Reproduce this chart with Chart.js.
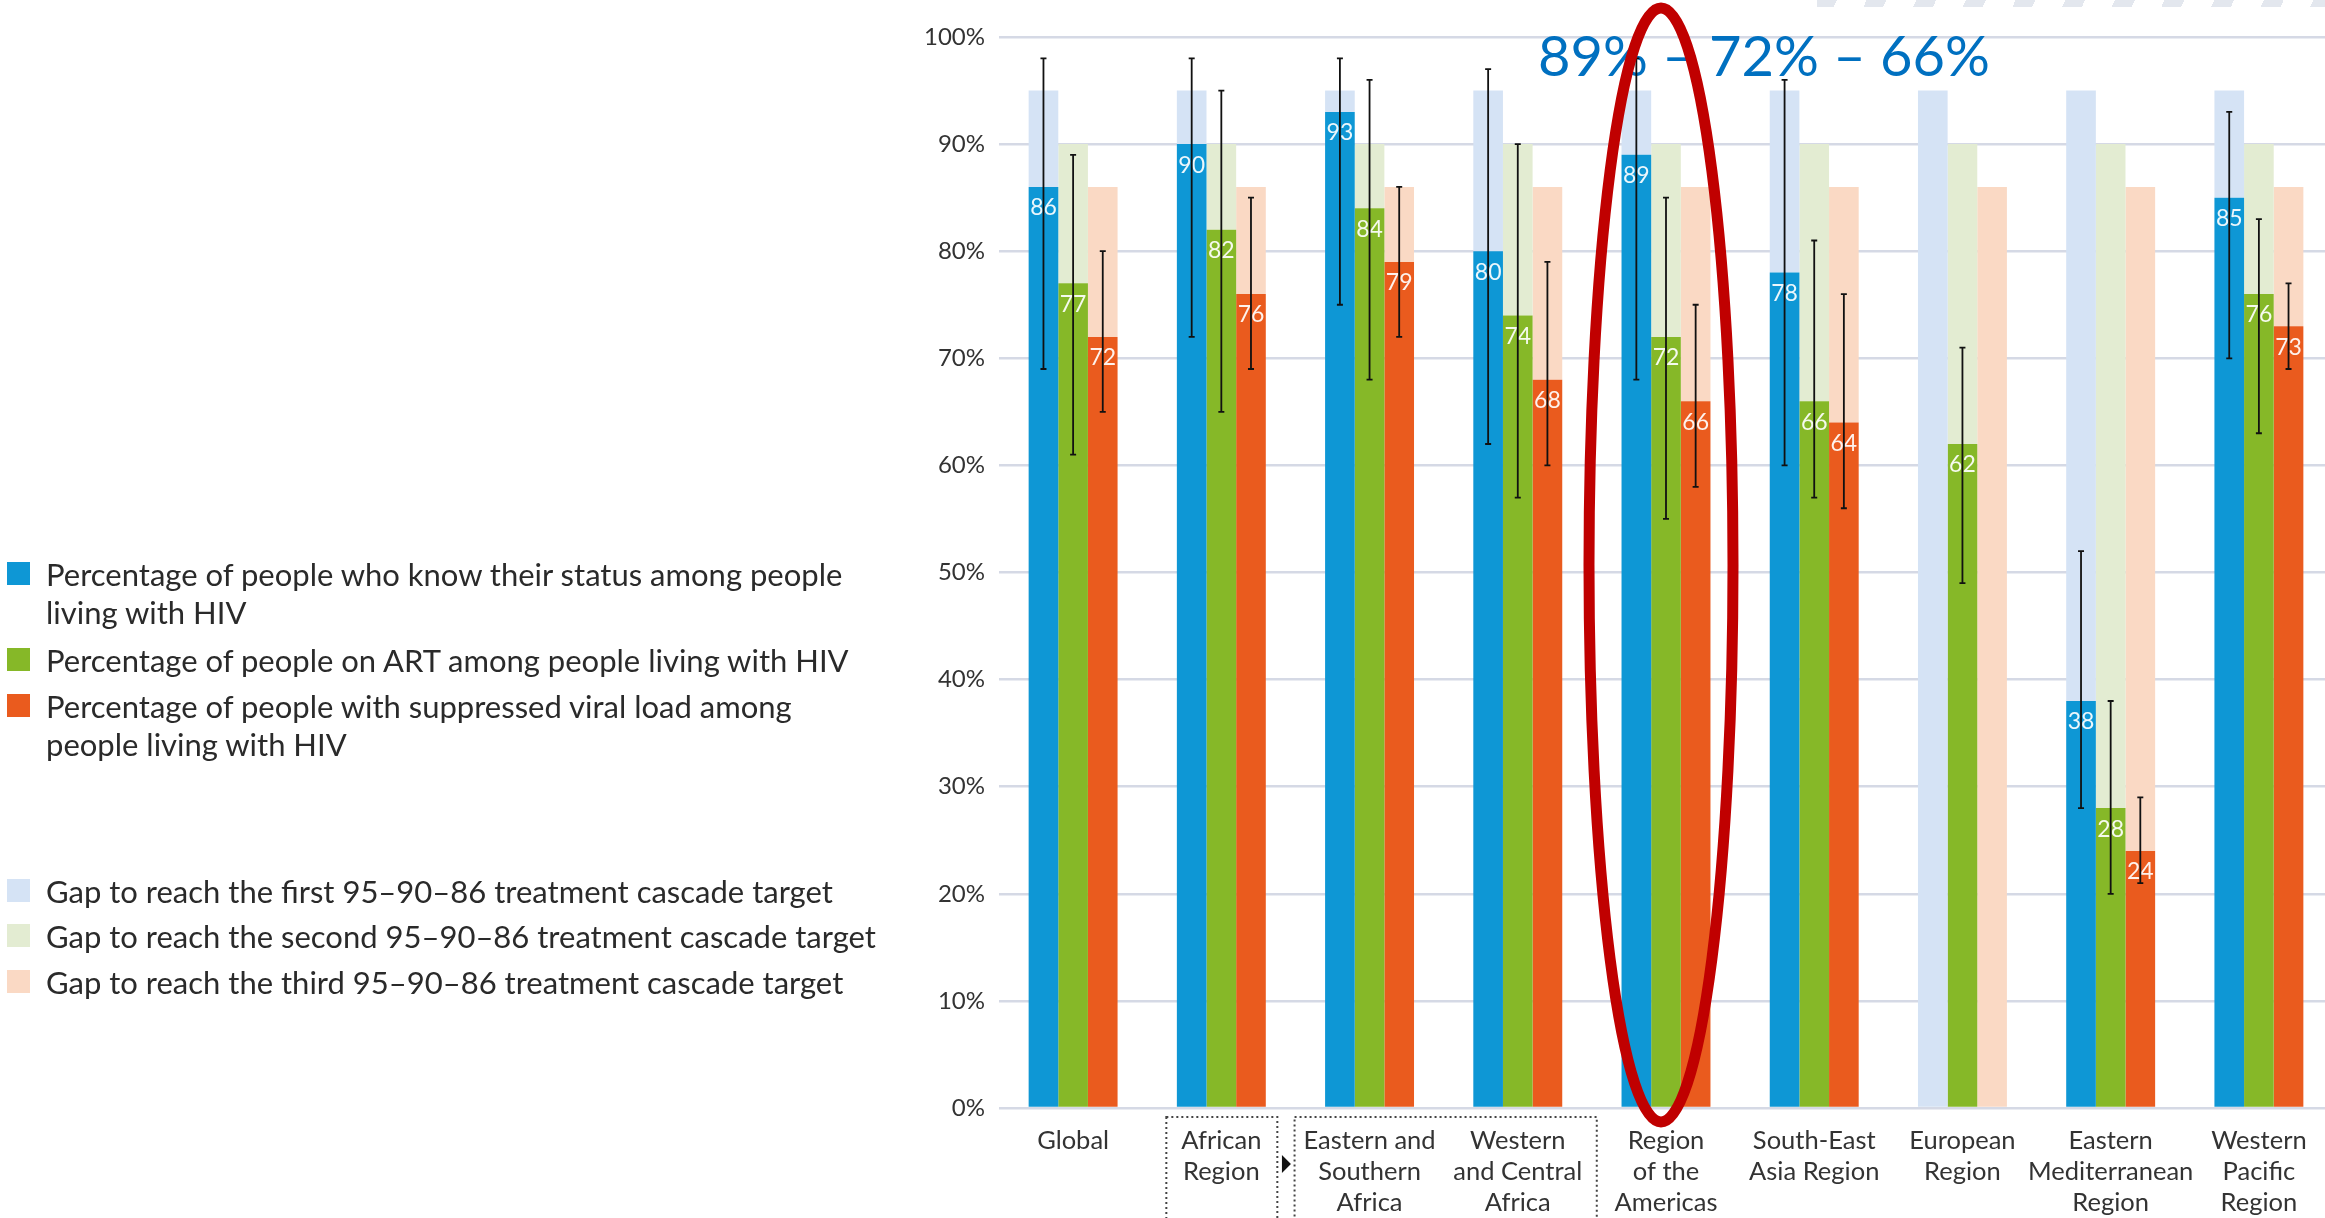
<!DOCTYPE html>
<html>
<head>
<meta charset="utf-8">
<script src="https://cdn.jsdelivr.net/npm/chart.js@4.4.1/dist/chart.umd.min.js"></script>
<style>
  html,body{margin:0;padding:0;background:#fff;overflow:hidden;width:2325px;height:1218px;}
  #wrap{position:absolute;left:0;top:0;width:2345px;height:1218px;}
  .lg{position:absolute;left:46px;font-family:Lato,"Open Sans",sans-serif;font-size:31px;line-height:38px;color:#2a2a2a;white-space:nowrap;}
  .sq{position:absolute;left:7px;width:23px;height:23px;}
  #stripes{position:absolute;left:1817px;top:0;width:508px;height:7px;
    background:repeating-linear-gradient(115deg,#E3E7EE 0 18px,transparent 18px 45px);}
</style>
</head>
<body>
<div id="stripes"></div>
<div id="wrap"><canvas id="c" width="2345" height="1218"></canvas></div>

<div class="sq" style="top:562px;background:#0E97D5"></div>
<div class="lg" style="top:555px">Percentage of people who know their status among people<br>living with HIV</div>
<div class="sq" style="top:648px;background:#86B828"></div>
<div class="lg" style="top:641px">Percentage of people on ART among people living with HIV</div>
<div class="sq" style="top:694px;background:#EA5B1E"></div>
<div class="lg" style="top:687px">Percentage of people with suppressed viral load among<br>people living with HIV</div>

<div class="sq" style="top:879px;background:#D5E3F5"></div>
<div class="lg" style="top:872px">Gap to reach the first 95–90–86 treatment cascade target</div>
<div class="sq" style="top:924px;background:#E3ECD2"></div>
<div class="lg" style="top:917px">Gap to reach the second 95–90–86 treatment cascade target</div>
<div class="sq" style="top:970px;background:#FAD9C4"></div>
<div class="lg" style="top:963px">Gap to reach the third 95–90–86 treatment cascade target</div>

<script>
const regions = [
  ['Global'], ['African','Region'], ['Eastern and','Southern','Africa'],
  ['Western','and Central','Africa'], ['Region','of the','Americas'],
  ['South-East','Asia Region'], ['European','Region'],
  ['Eastern','Mediterranean','Region'], ['Western','Pacific','Region']
];
// values in %
const knowStatus = [86, 90, 93, 80, 89, 78, null, 38, 85];
const onArt      = [77, 82, 84, 74, 72, 66, 62, 28, 76];
const suppressed = [72, 76, 79, 68, 66, 64, null, 24, 73];
const targets = [95, 90, 86];
// uncertainty ranges
const knowLow  = [69, 72, 75, 62, 68, 60, null, 28, 70];
const knowHigh = [98, 98, 98, 97, 98, 96, null, 52, 93];
const artLow   = [61, 65, 68, 57, 55, 57, 49, 20, 63];
const artHigh  = [89, 95, 96, 90, 85, 81, 71, 38, 83];
const supLow   = [65, 69, 72, 60, 58, 56, null, 21, 69];
const supHigh  = [80, 85, 86, 79, 75, 76, null, 29, 77];
const yTicks = [0,10,20,30,40,50,60,70,80,90,100];

const colBlue = '#0E97D5', colGreen = '#86B828', colOrange = '#EA5B1E';
const gapBlue = '#D5E3F5', gapGreen = '#E3ECD2', gapOrange = '#FAD9C4';
const FONT = 'Lato, "Open Sans", sans-serif';

function gap(arr, t){ return arr.map(v => t - (v || 0)); }

const series = [
  {vals: knowStatus, low: knowLow, high: knowHigh},
  {vals: onArt, low: artLow, high: artHigh},
  {vals: suppressed, low: supLow, high: supHigh}
];

const overlay = {
  id: 'overlay',
  afterDraw(chart){
    const ctx = chart.ctx;
    const xs = chart.scales.x, ys = chart.scales.y;
    ctx.save();
    // value labels inside bars
    ctx.font = '23px ' + FONT;
    ctx.fillStyle = 'rgba(255,255,255,0.92)';
    ctx.textAlign = 'center';
    ctx.textBaseline = 'middle';
    series.forEach((s, si) => {
      const meta = chart.getDatasetMeta(si * 2);
      s.vals.forEach((v, i) => {
        if (v == null) return;
        const el = meta.data[i];
        ctx.fillText(String(v), el.x, el.y + 21);
      });
    });
    // annotation text
    ctx.font = '56px ' + FONT;
    ctx.fillStyle = '#0070C0';
    ctx.textAlign = 'left';
    ctx.textBaseline = 'alphabetic';
    ctx.fillText('89% – 72% – 66%', 1538, 76);
    // error bars
    ctx.strokeStyle = '#111';
    ctx.lineWidth = 1.8;
    series.forEach((s, si) => {
      const meta = chart.getDatasetMeta(si * 2);
      s.vals.forEach((v, i) => {
        if (s.low[i] == null) return;
        const el = meta.data[i];
        const x = el.x;
        const y1 = ys.getPixelForValue(s.low[i]);
        const y2 = ys.getPixelForValue(s.high[i]);
        ctx.beginPath();
        ctx.moveTo(x, y1); ctx.lineTo(x, y2);
        ctx.moveTo(x - 3, y1); ctx.lineTo(x + 3, y1);
        ctx.moveTo(x - 3, y2); ctx.lineTo(x + 3, y2);
        ctx.stroke();
      });
    });
    // red ellipse around the Americas
    const cx = xs.getPixelForValue(4) - 5;
    ctx.strokeStyle = '#C00000';
    ctx.lineWidth = 11;
    ctx.beginPath();
    ctx.ellipse(cx, 565, 72, 557, 0, 0, Math.PI * 2);
    ctx.stroke();
    // dotted boxes under African region labels
    ctx.strokeStyle = '#444';
    ctx.lineWidth = 2;
    ctx.setLineDash([2, 3]);
    const b1l = xs.getPixelForValue(1) - 55, b1r = xs.getPixelForValue(1) + 56;
    const b2l = xs.getPixelForValue(2) - 75, b2r = xs.getPixelForValue(3) + 79;
    ctx.strokeRect(b1l, 1117, b1r - b1l, 120);
    ctx.strokeRect(b2l, 1117, b2r - b2l, 120);
    ctx.setLineDash([]);
    // arrow
    const ax = (b1r + b2l) / 2 - 4;
    ctx.fillStyle = '#111';
    ctx.beginPath();
    ctx.moveTo(ax, 1155); ctx.lineTo(ax + 9, 1164); ctx.lineTo(ax, 1173); ctx.closePath();
    ctx.fill();
    ctx.restore();
  }
};

new Chart(document.getElementById('c'), {
  type: 'bar',
  data: {
    labels: regions,
    datasets: [
      {label: 'know', data: knowStatus, backgroundColor: colBlue, stack: 'a'},
      {label: 'know gap', data: gap(knowStatus, targets[0]), backgroundColor: gapBlue, stack: 'a'},
      {label: 'art', data: onArt, backgroundColor: colGreen, stack: 'b'},
      {label: 'art gap', data: gap(onArt, targets[1]), backgroundColor: gapGreen, stack: 'b'},
      {label: 'vl', data: suppressed, backgroundColor: colOrange, stack: 'c'},
      {label: 'vl gap', data: gap(suppressed, targets[2]), backgroundColor: gapOrange, stack: 'c'}
    ].map(d => Object.assign(d, {categoryPercentage: 0.6, barPercentage: 1, borderWidth: 0}))
  },
  options: {
    responsive: false,
    animation: false,
    devicePixelRatio: 1,
    layout: {padding: {left: 0, top: 37, right: 12, bottom: 0}},
    plugins: {legend: {display: false}, tooltip: {enabled: false}},
    scales: {
      x: {
        stacked: true,
        grid: {display: false},
        border: {display: false},
        ticks: {font: {family: FONT, size: 25.5, lineHeight: 1.22}, color: '#333', padding: 9, maxRotation: 0, autoSkip: false},
        afterFit(s){ s.height = 110; }
      },
      y: {
        stacked: true,
        min: 0, max: 100,
        afterBuildTicks(s){ s.ticks = yTicks.map(v => ({value: v})); },
        grid: {color: '#D5D9E5', lineWidth: 2.5, drawTicks: false},
        border: {display: false},
        ticks: {font: {family: FONT, size: 24}, color: '#333', padding: 14, callback: v => v + '%'},
        afterFit(s){ s.width = 999; }
      }
    }
  },
  plugins: [overlay]
});
</script>
</body>
</html>
